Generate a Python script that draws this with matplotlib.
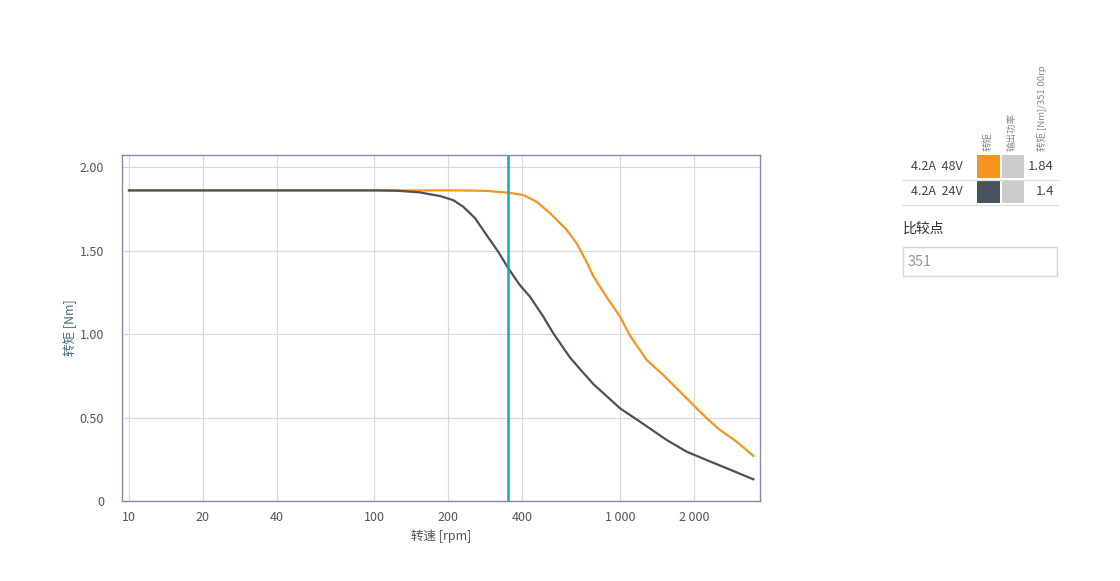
import matplotlib
matplotlib.use("Agg")
import matplotlib.pyplot as plt
from matplotlib.patches import Rectangle
from matplotlib.lines import Line2D
from matplotlib.ticker import FixedLocator, FixedFormatter, NullLocator

plt.rcParams['font.family'] = ['Noto Sans CJK SC', 'DejaVu Sans']

# torque curves (speed rpm, torque Nm)
speed_48v = [10, 50, 100, 150, 200, 253, 286, 352, 404, 458, 519, 607, 666, 732, 779,
             883, 1000, 1098, 1285, 1501, 1755, 1989, 2255, 2555, 2988, 3490]
torque_48v = [1.86, 1.86, 1.86, 1.86, 1.86, 1.859, 1.857, 1.846, 1.832, 1.792, 1.723,
              1.623, 1.543, 1.43, 1.345, 1.22, 1.104, 0.99, 0.844, 0.754,
              0.655, 0.575, 0.495, 0.425, 0.355, 0.27]
speed_24v = [10, 50, 100, 124, 153, 185, 209, 230, 257, 286, 319, 352, 391, 430, 487,
             535, 625, 687, 779, 1000, 1206, 1550, 1870, 2255, 2720, 3491]
torque_24v = [1.86, 1.86, 1.86, 1.858, 1.848, 1.826, 1.802, 1.762, 1.693, 1.593, 1.493,
              1.39, 1.293, 1.223, 1.104, 1.004, 0.86, 0.79, 0.70, 0.555, 0.475, 0.365,
              0.295, 0.245, 0.196, 0.13]
compare_rpm = 351

x_ticks = [10, 20, 40, 100, 200, 400, 1000, 2000]
x_labels = ['10', '20', '40', '100', '200', '400', '1\u2009000', '2\u2009000']
y_ticks = [0, 0.5, 1.0, 1.5, 2.0]
y_labels = ['0', '0.50', '1.00', '1.50', '2.00']

rows = ['4.2A  48V', '4.2A  24V']
row_colors = ['#f7931e', '#4a525c']
row_values = ['1.84', '1.4']
col_headers = ['转矩', '输出功率', '转矩 [Nm]/351.00rp']

W, H = 1120, 581
fig = plt.figure(figsize=(W / 100, H / 100), dpi=100)

def fx(px):
    return px / W

def fy(py):
    return 1 - py / H

ax = fig.add_axes([fx(122), fy(501), fx(760) - fx(122), fy(155) - fy(501)])
ax.set_xscale('log')
ax.set_xlim(9.37, 3716)
ax.set_ylim(0, 2.072)

ax.xaxis.set_major_locator(FixedLocator(x_ticks))
ax.xaxis.set_major_formatter(FixedFormatter(x_labels))
ax.xaxis.set_minor_locator(NullLocator())
ax.set_yticks(y_ticks)
ax.set_yticklabels(y_labels)

ax.grid(True, color='#d9d9d9', linewidth=0.9)
ax.set_axisbelow(True)
for s in ax.spines.values():
    s.set_color('#8a88a8')
    s.set_linewidth(1.0)
ax.tick_params(axis='both', length=0, labelsize=9, labelcolor='#555555')
ax.tick_params(axis='x', pad=7)
ax.tick_params(axis='y', pad=13)

ax.plot(speed_48v, torque_48v, color='#f7931e', linewidth=1.6)
ax.plot(speed_24v, torque_24v, color='#4a525c', linewidth=1.6)
ax.axvline(compare_rpm, color='#1aa3c4', linewidth=1.8)

ax.set_xlabel('转速 [rpm]', fontsize=9, color='#555555', labelpad=4)
ax.set_ylabel('转矩 [Nm]', fontsize=9, color='#4a6a80', labelpad=2)

# side table
sq_x = [977, 1002]
row_y = [155, 180]
for i, (lab, col, val) in enumerate(zip(rows, row_colors, row_values)):
    y0 = row_y[i]
    fig.text(fx(963), fy(y0 + 11.5), lab, ha='right', va='center', fontsize=9, color='#444444')
    fig.patches.append(Rectangle((fx(sq_x[0]), fy(y0 + 23)), fx(23), fy(0) - fy(23),
                                 transform=fig.transFigure, facecolor=col, edgecolor='none'))
    fig.patches.append(Rectangle((fx(sq_x[1]), fy(y0 + 23)), fx(22), fy(0) - fy(23),
                                 transform=fig.transFigure, facecolor='#cccccc', edgecolor='none'))
    fig.text(fx(1054), fy(y0 + 11.5), val, ha='right', va='center', fontsize=9.5, color='#444444')
    fig.lines.append(Line2D([fx(902), fx(1058)], [fy(y0 + 24.5), fy(y0 + 24.5)],
                            transform=fig.transFigure, color='#dddddd', linewidth=0.9))

head_x = [988, 1012, 1042]
for hx, h in zip(head_x, col_headers):
    fig.text(fx(hx), fy(151), h, rotation=90, ha='center', va='bottom',
             fontsize=6.8, color='#888888')

fig.text(fx(903), fy(229), '比较点', ha='left', va='center', fontsize=10, color='#333333')
fig.patches.append(Rectangle((fx(903), fy(276)), fx(1057) - fx(903), fy(247) - fy(276),
                             transform=fig.transFigure, facecolor='white',
                             edgecolor='#d6d6d6', linewidth=1.0))
fig.text(fx(908), fy(262), '351', ha='left', va='center', fontsize=10.5, color='#999999')

fig.savefig('out.png', dpi=100)
